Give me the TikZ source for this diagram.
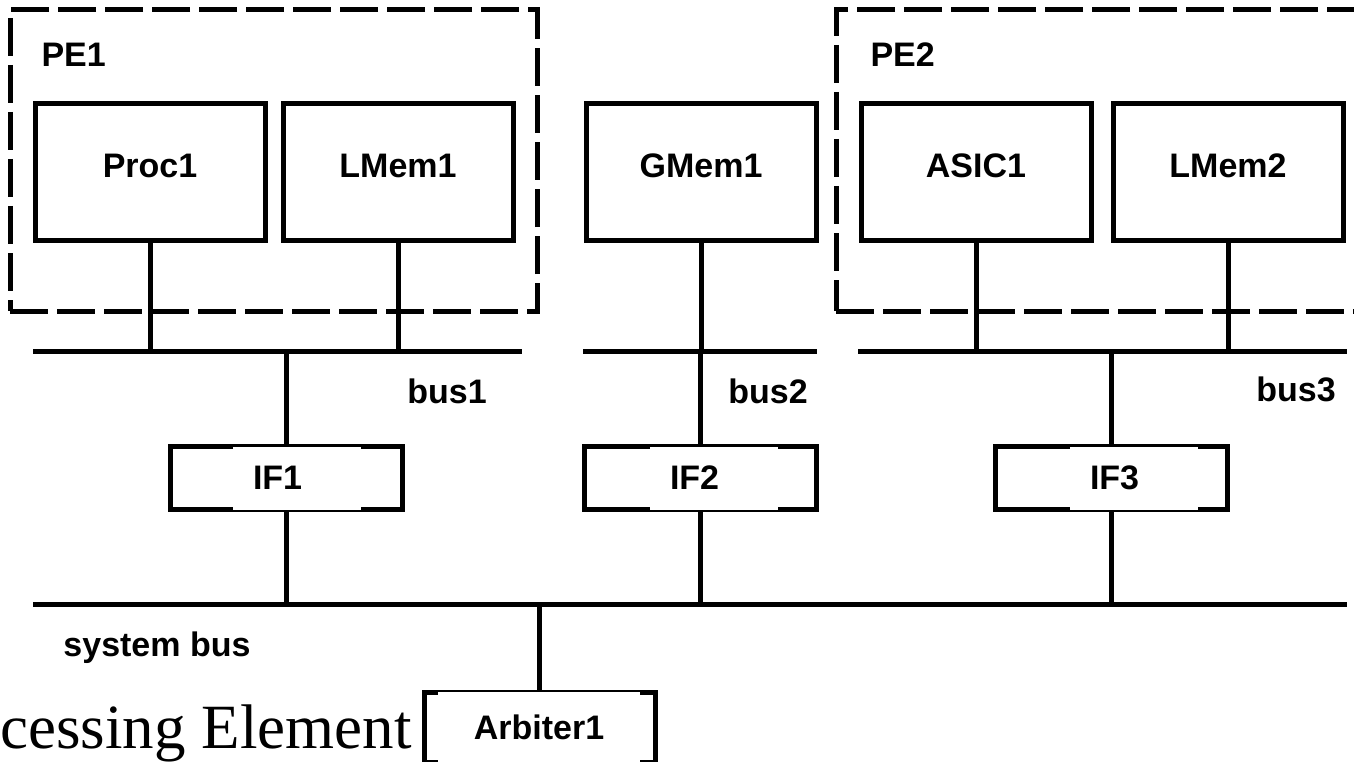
\documentclass[tikz,border=0pt]{standalone}
\usepackage{fontspec}
\setmainfont{Liberation Serif}
\setsansfont{Liberation Sans}
\newcommand{\lblfont}{\sffamily\bfseries\fontsize{34}{40}\selectfont}

\begin{document}
\begin{tikzpicture}[
  x=1pt,y=-1pt,line width=5pt,
  unit/.style={draw,minimum width=230pt,minimum height=136pt,inner sep=0pt,font=\lblfont,text height=25pt,text depth=14pt},
  ifbox/.style={draw,minimum width=232pt,minimum height=63pt,inner sep=0pt},
  ifpatch/.style={fill=white,inner xsep=20pt,inner ysep=0pt,text width=88pt,align=left,minimum height=63pt,font=\lblfont},
  pebox/.style={draw,dash pattern=on 38pt off 9pt,inner sep=0pt},
  lbl/.style={inner sep=0pt,font=\lblfont},
]
\useasboundingbox (0,0) rectangle (1354,762);
\clip (0,0) rectangle (1354,762);

% processing elements
\node[pebox,minimum width=527pt,minimum height=301pt] (pe1) at (273.5,160.5) {};
\node[pebox,minimum width=584pt,minimum height=301pt] (pe2) at (1128,160.5) {};
\node[lbl,anchor=base west] (pe1l) at (39,67) {PE1};
\node[lbl,anchor=base west] (pe2l) at (868,67) {PE2};

\node[unit] (proc) at (150,172) {Proc1};
\node[unit] (lmem1) at (398,172) {LMem1};
\node[unit] (gmem) at (701,172) {GMem1};
\node[unit] (asic) at (976,172) {ASIC1};
\node[unit] (lmem2) at (1228,172) {LMem2};

% buses
\coordinate (bus1w) at (33,351);  \coordinate (bus1e) at (522,351);
\coordinate (bus2w) at (583,351); \coordinate (bus2e) at (817,351);
\coordinate (bus3w) at (858,351); \coordinate (bus3e) at (1347,351);
\coordinate (sysw) at (33,604);   \coordinate (syse) at (1347,604);
\draw (bus1w) -- (bus1e);
\draw (bus2w) -- (bus2e);
\draw (bus3w) -- (bus3e);
\draw (sysw) -- (syse);
\node[lbl,anchor=base] (bus1l) at (447,403) {bus1};
\node[lbl,anchor=base] (bus2l) at (768,403) {bus2};
\node[lbl,anchor=base] (bus3l) at (1296,401) {bus3};
\node[lbl,anchor=base] (sysl) at (157,656) {system bus};

% interfaces
\node[ifbox] (if1) at (286,478) {};
\node[ifbox] (if2) at (700,478) {};
\node[ifbox] (if3) at (1111,478) {};
\node[ifpatch] (if1t) at (297,478) {IF1};
\node[ifpatch] (if2t) at (714,478) {IF2};
\node[ifpatch] (if3t) at (1134,478) {IF3};

% arbiter
\node[draw,minimum width=231pt,minimum height=70pt,inner sep=0pt] (arb) at (539.5,727) {};
\node[fill=white,minimum width=202pt,minimum height=70pt,inner sep=0pt,font=\lblfont] (arbt) at (539,727) {Arbiter1};
\node[inner sep=0pt,anchor=base east,font=\fontsize{63}{70}\selectfont] (pename) at (414,748) {cessing Element};

% connections
\draw (proc.south) -- (proc.south |- bus1w);
\draw (lmem1.south) -- (lmem1.south |- bus1w);
\draw (gmem.south) -- (gmem.south |- bus2w);
\draw (asic.south) -- (asic.south |- bus3w);
\draw (lmem2.south) -- (lmem2.south |- bus3w);
\draw (if1.north) -- (if1.north |- bus1w);
\draw (if2.north) -- (if2.north |- bus2w);
\draw (if3.north) -- (if3.north |- bus3w);
\draw (if1.south) -- (if1.south |- sysw);
\draw (if2.south) -- (if2.south |- sysw);
\draw (if3.south) -- (if3.south |- sysw);
\draw (arb.north) -- (arb.north |- sysw);
\end{tikzpicture}
\end{document}
